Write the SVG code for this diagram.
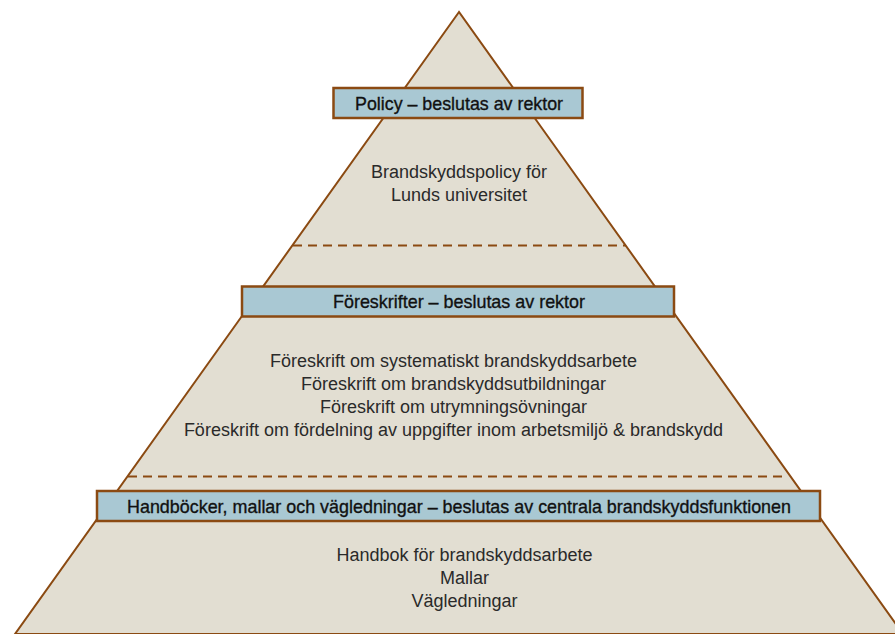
<svg xmlns="http://www.w3.org/2000/svg" width="895" height="634" viewBox="0 0 895 634">
<style>
.box{fill:#a9c8d3;stroke:#8b4a12;stroke-width:2.5}
.dash{stroke:#8b4a12;stroke-width:2;stroke-dasharray:9,6;fill:none}
.t{font-family:"Liberation Sans",Arial,sans-serif;font-size:18px;fill:#2a2a2a;text-anchor:middle}
.h{font-family:"Liberation Sans",Arial,sans-serif;font-size:19px;fill:#111;stroke:#111;stroke-width:0.35;text-anchor:middle}
</style>
<rect width="895" height="634" fill="#fff"/>
<g id="pyramid">
<polygon points="459,12 15,634 903,634" fill="#e2ded2" stroke="#8b4a12" stroke-width="2"/>
</g>
<g id="connectors">
<line class="dash" x1="293" y1="245.5" x2="626" y2="245.5"/>
<line class="dash" x1="128" y1="476.5" x2="788" y2="476.5"/>
</g>
<g id="level1">
<rect class="box" x="333.5" y="88" width="249" height="30"/>
<text class="h" x="459" y="109.5" textLength="208" lengthAdjust="spacingAndGlyphs">Policy – beslutas av rektor</text>
<text class="t" x="459" y="178">Brandskyddspolicy för</text>
<text class="t" x="459" y="201">Lunds universitet</text>
</g>
<g id="level2">
<rect class="box" x="242" y="286.5" width="432" height="30"/>
<text class="h" x="459" y="308" textLength="252" lengthAdjust="spacingAndGlyphs">Föreskrifter – beslutas av rektor</text>
<text class="t" x="453.5" y="367">Föreskrift om systematiskt brandskyddsarbete</text>
<text class="t" x="453.5" y="390">Föreskrift om brandskyddsutbildningar</text>
<text class="t" x="453.5" y="413">Föreskrift om utrymningsövningar</text>
<text class="t" x="453.5" y="436">Föreskrift om fördelning av uppgifter inom arbetsmiljö &amp; brandskydd</text>
</g>
<g id="level3">
<rect class="box" x="97" y="491" width="723" height="30"/>
<text class="h" x="459" y="513" textLength="664" lengthAdjust="spacingAndGlyphs">Handböcker, mallar och vägledningar – beslutas av centrala brandskyddsfunktionen</text>
<text class="t" x="464.5" y="561">Handbok för brandskyddsarbete</text>
<text class="t" x="464.5" y="584">Mallar</text>
<text class="t" x="464.5" y="607">Vägledningar</text>
</g>
</svg>
